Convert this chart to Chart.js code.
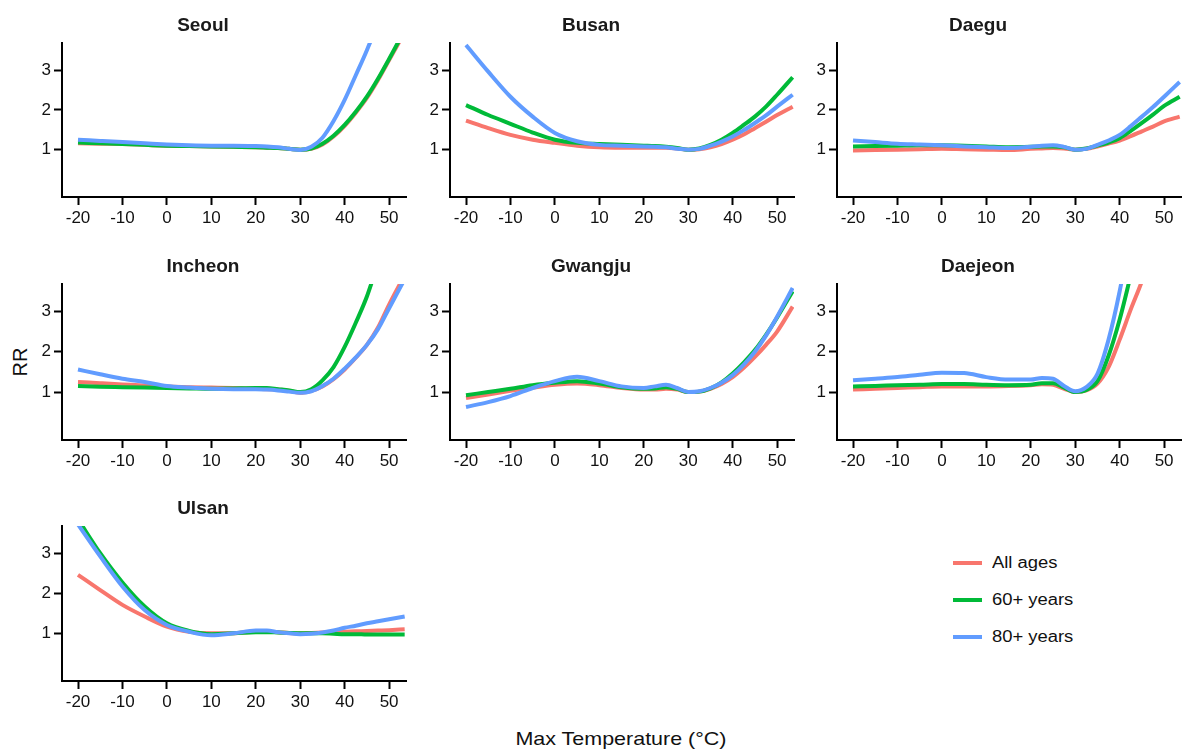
<!DOCTYPE html>
<html><head><meta charset="utf-8">
<script src="https://cdn.jsdelivr.net/npm/chart.js@4.4.0/dist/chart.umd.min.js"></script>
<style>
html,body{margin:0;padding:0;background:#fff;}
body{width:1182px;height:751px;position:relative;overflow:hidden;font-family:"Liberation Sans",Arial,sans-serif;color:#111;}
.panel{position:absolute;}
.ytitle{position:absolute;left:20px;top:362px;transform:translate(-50%,-50%) rotate(-90deg);font-size:20px;white-space:nowrap;line-height:1;}
.xtitle{position:absolute;left:421px;width:400px;top:729px;text-align:center;font-size:19px;line-height:20px;white-space:nowrap;transform:scaleX(1.13);transform-origin:50% 50%;}
.legend{position:absolute;left:953px;top:549px;}
.legend .item{position:relative;height:37px;}
.legend .sw{position:absolute;left:0;top:12px;width:29px;height:4px;}
.legend .lab{position:absolute;left:39px;top:4px;font-size:16px;line-height:20px;white-space:nowrap;transform:scaleX(1.15);transform-origin:0 50%;}
</style></head><body>
<div class="ytitle">RR</div>
<div class="xtitle">Max Temperature (°C)</div>
<div class="legend" id="legend"></div>
<script>
// ---- data ----
const temps = [-20,-15,-10,-5,0,5,10,15,20,22.5,25,27.5,30,32.5,35,37.5,40,42.5,45,47.5,50,53.5];
const xTicks = [-20,-10,0,10,20,30,40,50];
const yTicks = [1,2,3];
const groups = ['All ages','60+ years','80+ years'];
const colors = ['#F8766D','#00BA38','#619CFF'];
const cities = ['Seoul','Busan','Daegu','Incheon','Gwangju','Daejeon','Ulsan'];

const seoulAll = [1.16,1.15,1.14,1.12,1.10,1.09,1.08,1.07,1.06,1.05,1.04,1.02,1.00,1.02,1.13,1.33,1.60,1.93,2.30,2.75,3.25,3.95];
const seoul60  = [1.18,1.16,1.14,1.12,1.10,1.09,1.08,1.07,1.06,1.05,1.04,1.02,1.00,1.03,1.15,1.35,1.62,1.95,2.33,2.78,3.28,4.00];
const seoul80  = [1.25,1.22,1.19,1.16,1.13,1.11,1.10,1.10,1.09,1.08,1.06,1.02,0.99,1.07,1.30,1.72,2.25,2.87,3.50,4.20,5.00,null];

const busanAll = [1.73,1.54,1.37,1.25,1.17,1.10,1.06,1.05,1.05,1.05,1.05,1.03,1.00,1.01,1.06,1.14,1.25,1.38,1.54,1.70,1.87,2.08];
const busan60  = [2.12,1.87,1.65,1.43,1.25,1.17,1.14,1.12,1.10,1.09,1.07,1.04,1.00,1.03,1.12,1.25,1.42,1.62,1.83,2.08,2.38,2.82];
const busan80  = [3.63,2.96,2.33,1.83,1.42,1.21,1.12,1.10,1.08,1.07,1.06,1.02,1.00,1.02,1.10,1.20,1.33,1.49,1.67,1.86,2.08,2.38];

const daeguAll = [0.98,0.99,1.00,1.01,1.02,1.01,1.00,0.99,1.02,1.03,1.04,1.03,1.00,1.02,1.08,1.15,1.23,1.34,1.46,1.58,1.71,1.83];
const daegu60  = [1.08,1.09,1.10,1.11,1.11,1.10,1.08,1.06,1.07,1.08,1.08,1.06,1.00,1.03,1.10,1.18,1.29,1.47,1.67,1.88,2.10,2.33];
const daegu80  = [1.23,1.19,1.15,1.13,1.11,1.08,1.06,1.04,1.07,1.10,1.11,1.07,1.00,1.02,1.12,1.23,1.37,1.59,1.83,2.07,2.33,2.70];

const incheonAll = [1.25,1.22,1.19,1.16,1.14,1.12,1.11,1.10,1.08,1.07,1.06,1.03,0.98,1.03,1.14,1.32,1.56,1.85,2.17,2.60,3.17,3.90];
const incheon60  = [1.15,1.13,1.12,1.11,1.10,1.09,1.08,1.09,1.10,1.10,1.07,1.04,1.00,1.07,1.29,1.62,2.12,2.72,3.37,4.20,null,null];
const incheon80  = [1.56,1.44,1.33,1.25,1.15,1.11,1.08,1.07,1.07,1.06,1.04,1.01,0.98,1.02,1.15,1.33,1.58,1.86,2.17,2.56,3.08,3.80];

const gwangjuAll = [0.85,0.94,1.03,1.11,1.18,1.21,1.17,1.10,1.06,1.06,1.08,1.06,1.00,1.01,1.08,1.20,1.37,1.60,1.87,2.17,2.50,3.12];
const gwangju60  = [0.92,1.00,1.08,1.17,1.23,1.27,1.21,1.12,1.08,1.09,1.12,1.08,1.00,1.01,1.09,1.24,1.46,1.73,2.04,2.42,2.85,3.50];
const gwangju80  = [0.63,0.75,0.90,1.10,1.27,1.38,1.27,1.14,1.10,1.14,1.18,1.10,1.00,1.02,1.10,1.23,1.42,1.68,2.00,2.40,2.87,3.58];

const daejeonAll = [1.06,1.08,1.10,1.12,1.14,1.14,1.14,1.15,1.17,1.19,1.18,1.08,1.00,1.04,1.21,1.62,2.30,3.05,3.75,4.60,null,null];
const daejeon60  = [1.14,1.15,1.17,1.18,1.20,1.20,1.18,1.17,1.18,1.22,1.22,1.11,1.00,1.05,1.27,1.90,2.80,3.90,null,null,null,null];
const daejeon80  = [1.29,1.33,1.37,1.43,1.48,1.47,1.37,1.31,1.31,1.35,1.33,1.15,1.02,1.12,1.45,2.30,3.50,5.00,null,null,null,null];

const ulsanAll = [2.46,2.08,1.71,1.42,1.17,1.04,1.00,1.00,1.04,1.04,1.03,1.01,1.00,1.01,1.02,1.03,1.04,1.05,1.06,1.07,1.08,1.10];
const ulsan60  = [3.85,3.00,2.27,1.67,1.25,1.06,0.98,1.00,1.03,1.03,1.02,1.01,1.00,1.00,1.00,0.99,0.98,0.98,0.97,0.97,0.97,0.97];
const ulsan80  = [3.72,2.92,2.17,1.58,1.21,1.04,0.95,1.00,1.07,1.07,1.03,1.00,0.98,0.99,1.02,1.07,1.14,1.19,1.25,1.30,1.35,1.42];

const citySeries = [
  [seoulAll, seoul60, seoul80],
  [busanAll, busan60, busan80],
  [daeguAll, daegu60, daegu80],
  [incheonAll, incheon60, incheon80],
  [gwangjuAll, gwangju60, gwangju80],
  [daejeonAll, daejeon60, daejeon80],
  [ulsanAll, ulsan60, ulsan80]
];

// ---- layout ----
const xMin = -23.6, xMax = 53.8, yMin = -0.19, yMax = 3.68;
const colLeft = [62, 450, 837];
const rowTop = [43, 284, 526];
const rowH = [154, 156, 155];
const yAxisW = 62, titleH = 43, xAxisH = 40, plotW = 344, rightPad = 1;
const FONT = '"Liberation Sans", Arial, sans-serif';

cities.forEach((city, i) => {
  const col = i % 3, row = Math.floor(i / 3);
  const w = yAxisW + plotW + rightPad;
  const h = titleH + rowH[row] + xAxisH;
  const div = document.createElement('div');
  div.className = 'panel';
  div.style.left = (colLeft[col] - yAxisW) + 'px';
  div.style.top = (rowTop[row] - titleH) + 'px';
  div.style.width = w + 'px';
  div.style.height = h + 'px';
  const cv = document.createElement('canvas');
  cv.width = w; cv.height = h;
  cv.style.width = w + 'px'; cv.style.height = h + 'px';
  div.appendChild(cv);
  document.body.appendChild(div);

  const datasets = citySeries[i].map((vals, g) => ({
    label: groups[g],
    data: temps.map((t, k) => ({x: t, y: vals[k]})),
    borderColor: colors[g],
    backgroundColor: colors[g],
    borderWidth: 4,
    pointRadius: 0,
    fill: false,
    cubicInterpolationMode: 'monotone',
    spanGaps: false,
    order: 2 - g
  }));

  new Chart(cv, {
    type: 'line',
    data: { datasets },
    options: {
      responsive: false,
      animation: false,
      events: [],
      layout: { padding: { left: 0, right: rightPad, top: 0, bottom: 0 } },
      plugins: {
        legend: { display: false },
        tooltip: { enabled: false },
        title: {
          display: true, text: city, color: '#1a1a1a',
          font: { family: FONT, size: 19, weight: 'bold', lineHeight: 1.2 },
          padding: { top: 14, bottom: 6.2 }
        }
      },
      scales: {
        x: {
          type: 'linear', min: xMin, max: xMax,
          afterBuildTicks: s => { s.ticks = xTicks.map(v => ({ value: v })); },
          afterFit: s => { s.height = xAxisH; },
          grid: { display: true, drawOnChartArea: false, drawTicks: true, tickLength: 8, tickColor: '#000', tickWidth: 2, color: '#000' },
          border: { display: true, color: '#000', width: 2 },
          ticks: { autoSkip: false, maxRotation: 0, padding: 3, color: '#111', font: { family: FONT, size: 17 } }
        },
        y: {
          type: 'linear', min: yMin, max: yMax,
          afterBuildTicks: s => { s.ticks = yTicks.map(v => ({ value: v })); },
          afterFit: s => { s.width = yAxisW; },
          grid: { display: true, drawOnChartArea: false, drawTicks: true, tickLength: 8, tickColor: '#000', tickWidth: 2, color: '#000' },
          border: { display: true, color: '#000', width: 2 },
          ticks: { padding: 3, color: '#111', font: { family: FONT, size: 17 } }
        }
      }
    }
  });
});

// ---- legend ----
const lg = document.getElementById('legend');
groups.forEach((g, k) => {
  const it = document.createElement('div');
  it.className = 'item';
  it.innerHTML = '<div class="sw" style="background:' + colors[k] + '"></div><div class="lab">' + g + '</div>';
  lg.appendChild(it);
});
</script>
</body></html>
